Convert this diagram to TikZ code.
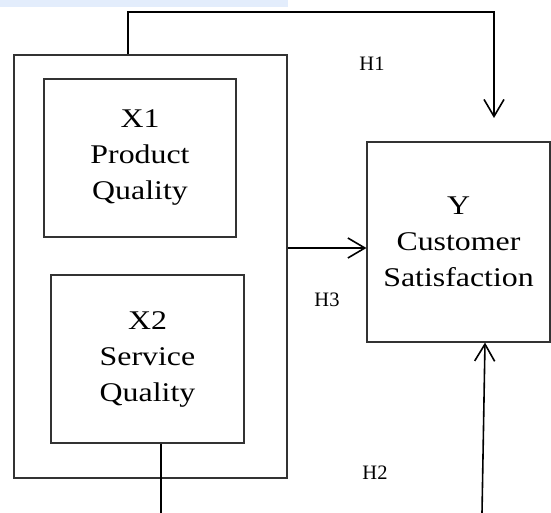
\documentclass[tikz,border=0pt]{standalone}
\usepackage{fontspec}
\setmainfont{Liberation Serif}
\newfontfamily\boxfont[FakeStretch=1.18]{Liberation Serif}
\usetikzlibrary{arrows.meta}
\definecolor{bandblue}{RGB}{227,237,252}
\tikzset{box/.style={draw=black!80, line width=1.1pt, rectangle, inner sep=0pt,
         align=center, font=\boxfont\fontsize{27}{36}\selectfont},
         conn/.style={draw=black, line width=1.6pt,
         -{Straight Barb[length=17pt,width=20pt,line width=1.6pt]}},
         hlabel/.style={font=\fontsize{20.5}{20}\selectfont, inner sep=0pt}}

\begin{document}
\begin{tikzpicture}[x=1pt, y=-1pt]
    \useasboundingbox (0,0) rectangle (551,513);
    \fill[bandblue] (0,0) rectangle (288,7);

    % outer frame holding both quality blocks
    \node[box, minimum width=273pt, minimum height=423pt] (frame) at (150.5,266.5) {};
    \node[box, minimum width=192pt, minimum height=158pt] (qprod) at (140,158)
         {X1\\Product\\Quality};
    \node[box, minimum width=193pt, minimum height=168pt] (qserv) at (147.5,359)
         {X2\\Service\\Quality};
    \node[box, minimum width=183pt, minimum height=200pt] (ysat) at (458.5,242)
         {Y\\Customer\\Satisfaction};

    \coordinate (h1top) at (128,12);
    \coordinate (h1end) at (494,118);
    \coordinate (h3mid) at (0,248);
    \coordinate (h2foot) at (482,513);
    \coordinate (x2foot) at (161,513);

    \draw[conn] (frame.north -| h1top) -- (h1top) -| (h1end);
    \draw[conn] (frame.east |- h3mid) -- (ysat.west |- h3mid);
    \draw[conn] (h2foot) -- (ysat.south -| 485,0);
    \draw[line width=1.6pt] (qserv.south -| x2foot) -- (x2foot);

    \node[hlabel] (h1) at (372,64) {H1};
    \node[hlabel] (h3) at (327,300) {H3};
    \node[hlabel] (h2) at (375,473) {H2};
\end{tikzpicture}
\end{document}
